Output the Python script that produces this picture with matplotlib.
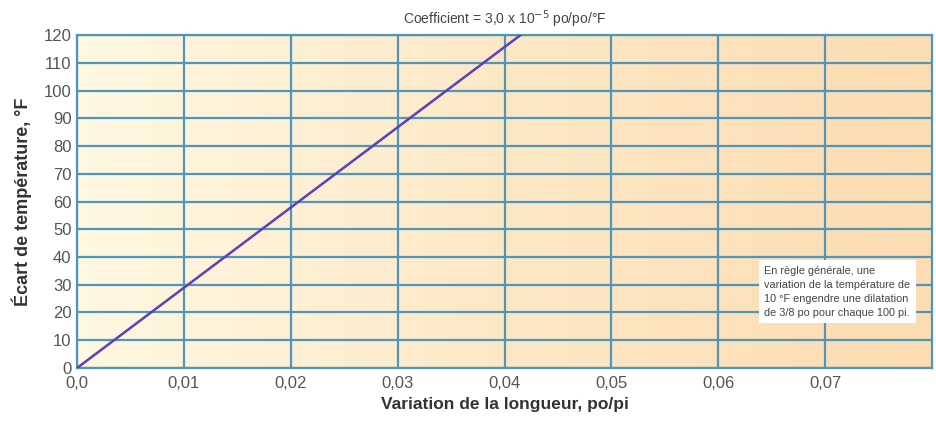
import numpy as np
import matplotlib.pyplot as plt
from matplotlib.colors import LinearSegmentedColormap

# data
variation = [0.0, 0.0415]
ecart = [0, 120]
x_ticks = [0.0, 0.01, 0.02, 0.03, 0.04, 0.05, 0.06, 0.07]
x_labels = ["0,0", "0,01", "0,02", "0,03", "0,04", "0,05", "0,06", "0,07"]
y_ticks = list(range(0, 130, 10))

plt.rcParams['font.family'] = ['Liberation Sans', 'DejaVu Sans']

fig = plt.figure(figsize=(9.36, 4.22), dpi=100)
ax = fig.add_axes([0.0823, 0.128, 0.9134, 0.789])

# cream to peach background
cmap = LinearSegmentedColormap.from_list("bg", ["#fff8e2", "#fde8c6", "#fcdcb2"])
grad = np.linspace(0, 1, 256).reshape(1, -1)
ax.imshow(grad, cmap=cmap, aspect="auto", extent=[0, 0.08, 0, 120], zorder=0)

ax.set_xlim(0, 0.08)
ax.set_ylim(0, 120)
ax.set_xticks(x_ticks)
ax.set_xticklabels(x_labels)
ax.set_yticks(y_ticks)
ax.grid(True, color="#5096bb", linewidth=1.6, zorder=1)
for s in ax.spines.values():
    s.set_color("#5096bb")
    s.set_linewidth(1.6)
ax.tick_params(length=0, labelsize=12, labelcolor="#555555", pad=6)
ax.tick_params(axis="y", pad=4)

ax.plot(variation, ecart, color="#5a3fbf", linewidth=1.8, zorder=3)

ax.set_xlabel("Variation de la longueur, po/pi", fontsize=12.5, fontweight="bold",
              color="#333333", labelpad=4)
ax.set_ylabel("Écart de température, °F", fontsize=13, fontweight="bold",
              color="#333333", labelpad=8)
ax.set_title("Coefficient = 3,0 x 10$^{-5}$ po/po/°F", fontsize=10, color="#444444", pad=8)

ax.text(0.0643, 27.5, "En règle générale, une\nvariation de la température de\n"
        "10 °F engendre une dilatation\nde 3/8 po pour chaque 100 pi.",
        fontsize=7.8, color="#444444", linespacing=1.5, va="center", ha="left", zorder=4,
        bbox=dict(facecolor="white", edgecolor="none", boxstyle="square,pad=0.5"))

fig.savefig("out.png", dpi=100)
